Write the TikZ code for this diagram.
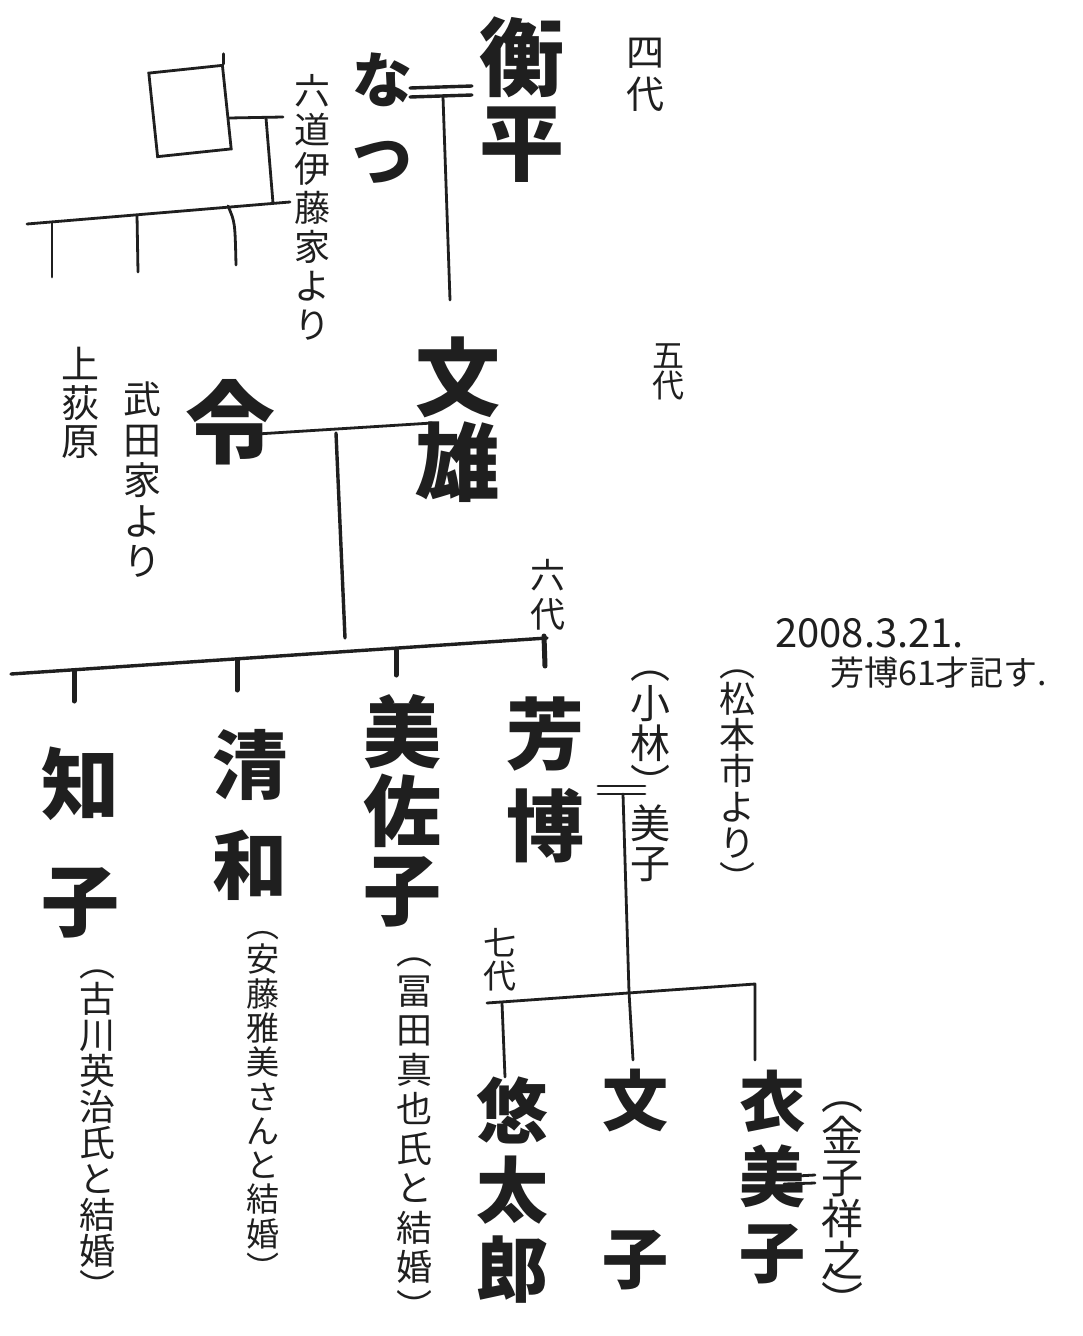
\documentclass[tikz,border=0pt]{standalone}
\usepackage{fontspec}
\newfontfamily\cjk{Noto Sans CJK JP}
\newcommand\jfs[2]{\cjk\fontsize{#1}{#2}\selectfont}
\begin{document}
\begin{tikzpicture}[x=1pt,y=-1pt,
  ink/.style={draw=black!88, line width=3.4pt, line cap=round, line join=round},
  fine/.style={ink, line width=2.8pt},
  vt/.style={inner sep=0pt, align=center, text=black!88},
]
\useasboundingbox[fill=white] (0,0) rectangle (1082,1336);

% ---------- texts ----------
\node[vt, font=\jfs{85}{85}\bfseries] (kohei) at (522,100) {衡\\平};
\node[vt, font=\jfs{38}{42}] (yondai) at (645,75) {四\\代};
\node[vt, font=\jfs{60}{80}\bfseries] (natsu) at (382,118) {な\\つ};
\node[vt, font=\jfs{36}{39}] (rokudo) at (312,207) {六\\道\\伊\\藤\\家\\よ\\り};
\node[vt, font=\jfs{32}{30}] (godai) at (668,372) {五\\代};
\node[vt, font=\jfs{85}{85}\bfseries] (fumio) at (458,420) {文\\雄};
\node[vt, font=\jfs{90}{90}\bfseries] (rei) at (230,422) {令};
\node[vt, font=\jfs{38}{40.5}] (takeda) at (142,480) {武\\田\\家\\よ\\り};
\node[vt, font=\jfs{38}{38.5}] (kamiogi) at (80,403) {上\\荻\\原};
\node[vt, font=\jfs{35}{39}] (rokudai) at (548,595) {六\\代};
\node[vt, anchor=west, font=\jfs{40}{40}] (date) at (775,633) {2008.3.21.};
\node[vt, anchor=west, font=\jfs{34}{34}] (memo) at (830,673) {芳博61才記す.};

\node[vt, font=\jfs{78}{117}\bfseries] (tomoko) at (80,843) {知\\子};
\node[vt, font=\jfs{36}{36}] (tomonote) at (97,1135) {︵\\古\\川\\英\\治\\氏\\と\\結\\婚\\︶};
\node[vt, font=\jfs{75}{100}\bfseries] (kiyokazu) at (250,815) {清\\和};
\node[vt, font=\jfs{33}{34.3}] (kiyonote) at (263,1106) {︵\\安\\藤\\雅\\美\\さ\\ん\\と\\結\\婚\\︶};
\node[vt, font=\jfs{78}{79}\bfseries] (misako) at (402,811) {美\\佐\\子};
\node[vt, font=\jfs{36}{39.5}] (misanote) at (414,1139) {︵\\冨\\田\\真\\也\\氏\\と\\結\\婚\\︶};
\node[vt, font=\jfs{78}{92}\bfseries] (yoshihiro) at (545,780) {芳\\博};
\node[vt, font=\jfs{40}{40}] (yoshiko) at (650,776) {︵\\小\\林\\︶\\美\\子};
\node[vt, font=\jfs{36}{36}] (matsumoto) at (737,781) {︵\\松\\本\\市\\よ\\り\\︶};
\node[vt, font=\jfs{33}{33}] (nanadai) at (500,960) {七\\代};
\node[vt, font=\jfs{72}{79}\bfseries] (yutaro) at (512,1190) {悠\\太\\郎};
\node[vt, font=\jfs{66}{158}\bfseries] (fumiko) at (635,1180) {文\\子};
\node[vt, font=\jfs{66}{75.5}\bfseries] (emiko) at (772,1177) {衣\\美\\子};
\node[vt, font=\jfs{42}{41.6}] (kaneko) at (842,1210) {︵\\金\\子\\祥\\之\\︶};

% ---------- unknown person box ----------
\node[draw=black!88, line width=2.8pt, minimum width=74pt, minimum height=84pt,
      inner sep=0pt, rotate=6] (box) at (190,111) {};
\draw[fine] (box.north east) -- ++(0,-10);

% ---------- connectors ----------
\coordinate (bxR) at (229,118);
\coordinate (bxE) at (283,117);
\coordinate (bxM) at (266,118);
\coordinate (sibT) at (273,203);
\coordinate (sibL) at (27,224);
\coordinate (sibR) at (290,202);
\coordinate (s1t) at (52,222);  \coordinate (s1b) at (52,277);
\coordinate (s2t) at (137,215); \coordinate (s2b) at (138,272);
\coordinate (s3t) at (228,206); \coordinate (s3b) at (236,265);
\draw[fine] (bxR) -- (bxE);
\draw[fine] (bxM) -- (sibT);
\draw[fine] (sibL) -- (sibR);
\draw[fine] (s1t) -- (s1b);
\draw[fine] (s2t) -- (s2b);
\draw[fine] (s3t) .. controls (235,222) .. (s3b);

% kohei = natsu
\coordinate (k1a) at (410,88);  \coordinate (k1b) at (472,86);
\coordinate (k2a) at (410,97);  \coordinate (k2b) at (472,95);
\coordinate (kd) at (443,97);   \coordinate (kdb) at (450,300);
\draw[ink] (k1a) -- (k1b);
\draw[ink] (k2a) -- (k2b);
\draw[fine] (kd) -- (kdb);

% rei = fumio
\coordinate (rL) at (257,434); \coordinate (rR) at (432,423);
\coordinate (rd) at (336,433); \coordinate (rdb) at (345,638);
\draw[fine] (rL) -- (rR);
\draw[ink] (rd) -- (rdb);

% sixth generation
\coordinate (g6L) at (11,674); \coordinate (g6R) at (547,638);
\draw[ink] (g6L) -- (g6R);
\coordinate (c1t) at (74,671);  \coordinate (c1b) at (74,701);
\coordinate (c2t) at (237,660); \coordinate (c2b) at (237,690);
\coordinate (c3t) at (396,650); \coordinate (c3b) at (396,675);
\coordinate (c4t) at (544,636); \coordinate (c4b) at (545,666);
\draw[ink, line width=5pt] (c1t) -- (c1b);
\draw[ink, line width=5pt] (c2t) -- (c2b);
\draw[ink, line width=5pt] (c3t) -- (c3b);
\draw[ink, line width=5pt] (c4t) -- (c4b);

% yoshihiro = yoshiko
\coordinate (y1a) at (598,786); \coordinate (y1b) at (645,786);
\coordinate (y2a) at (598,794); \coordinate (y2b) at (645,794);
\coordinate (yd) at (623,794);  \coordinate (yx) at (629,992); \coordinate (ydb) at (633,1060);
\draw[fine] (y1a) -- (y1b);
\draw[fine] (y2a) -- (y2b);
\draw[fine] (yd) -- (yx) -- (ydb);

% seventh generation
\coordinate (g7L) at (487,1003); \coordinate (g7R) at (755,984);
\coordinate (g7Rb) at (755,1060);
\coordinate (d1t) at (502,1003); \coordinate (d1b) at (505,1077);
\draw[fine] (g7L) -- (g7R) -- (g7Rb);
\draw[fine] (d1t) -- (d1b);

% emiko = kaneko
\coordinate (e1a) at (778,1177); \coordinate (e1b) at (815,1175);
\coordinate (e2a) at (784,1184); \coordinate (e2b) at (815,1183);
\draw[fine] (e1a) -- (e1b);
\draw[fine] (e2a) -- (e2b);
\end{tikzpicture}
\end{document}
